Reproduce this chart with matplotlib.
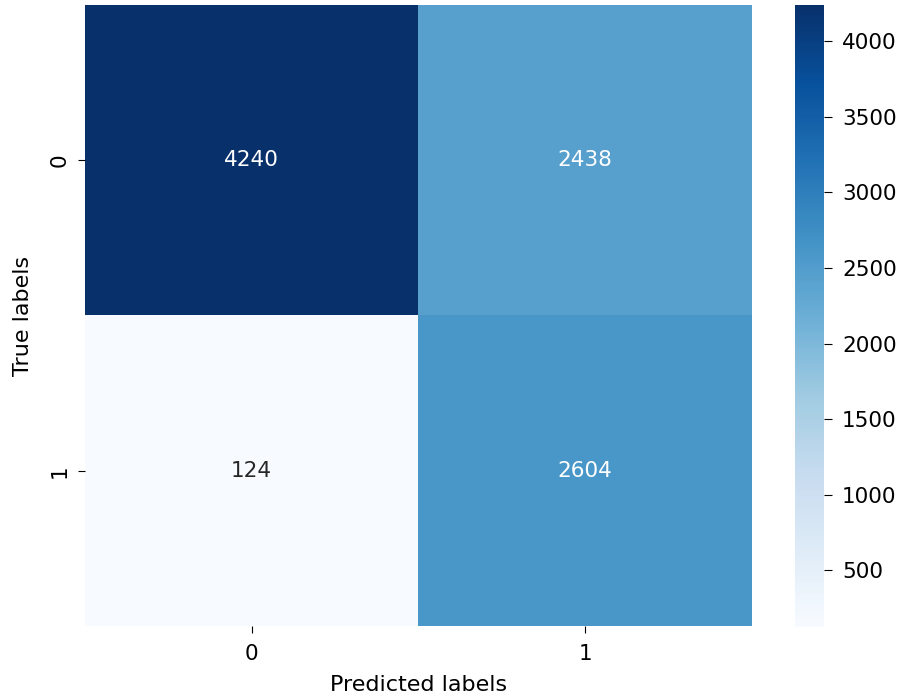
import numpy as np
import matplotlib
matplotlib.use("Agg")
import matplotlib.pyplot as plt
import seaborn as sns

# confusion matrix values
true_labels = ["0", "1"]
pred_labels = ["0", "1"]
row_0 = [4240, 2438]
row_1 = [124, 2604]

cm = np.array([row_0, row_1])

plt.rcParams['font.size'] = 15.5
plt.rcParams['xtick.major.size'] = 5
plt.rcParams['ytick.major.size'] = 5
plt.rcParams['xtick.major.pad'] = 8
plt.rcParams['ytick.major.pad'] = 6
fig = plt.figure(figsize=(9.02, 6.97), dpi=100)
ax = fig.add_axes([0.0942, 0.1019, 0.7395, 0.891])
cax = fig.add_axes([0.8814, 0.1004, 0.0322, 0.8924])

sns.heatmap(cm, annot=True, fmt="d", cmap="Blues", ax=ax, cbar_ax=cax,
            xticklabels=pred_labels, yticklabels=true_labels,
            annot_kws={"size": 15.5})
ax.set_xlabel("Predicted labels", fontsize=16, labelpad=8)
ax.set_ylabel("True labels", fontsize=16, labelpad=12)
cax.tick_params(labelsize=15.5, length=6, pad=7)

fig.savefig("out.png", dpi=100)
